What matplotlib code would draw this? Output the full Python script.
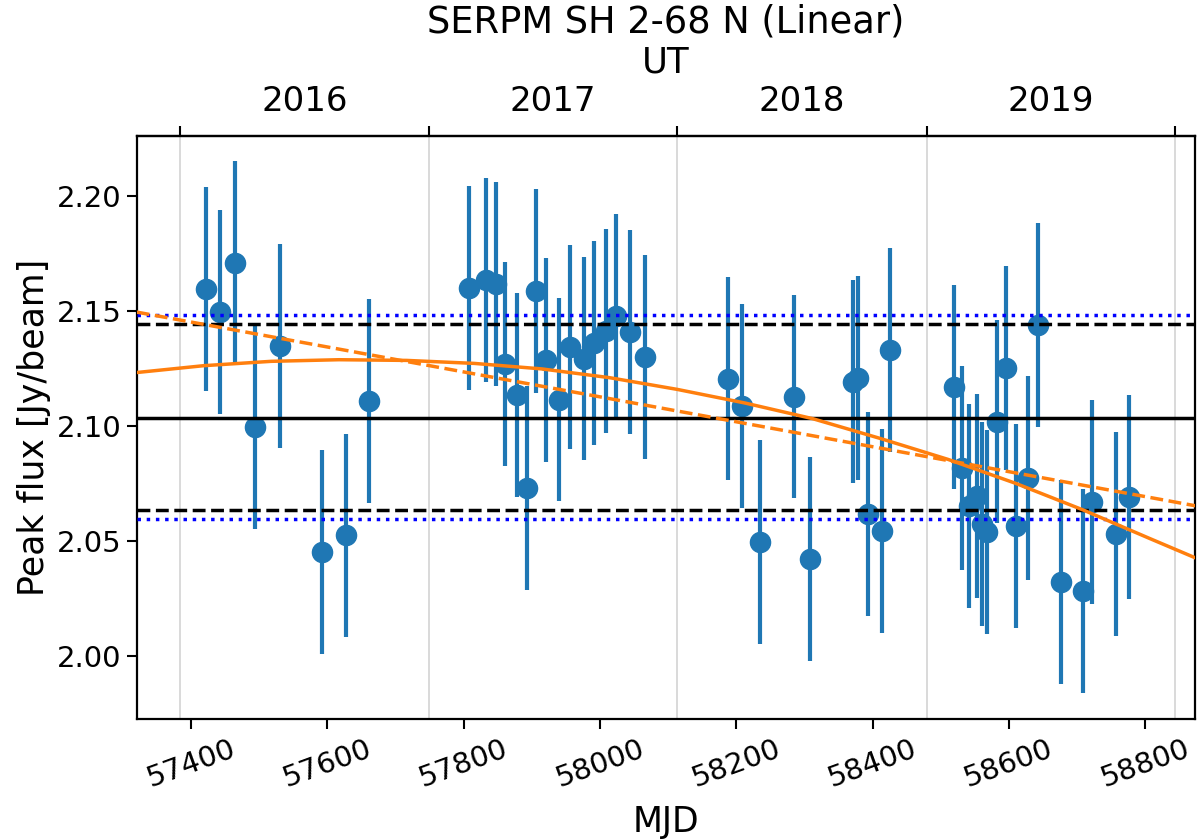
import matplotlib
matplotlib.use("Agg")
import matplotlib.pyplot as plt
import numpy as np

# ---- data ----
mjd = [57421.5, 57442.6, 57465.0, 57494.4, 57530.2, 57592.3, 57627.5, 57661.3,
       57807.7, 57833.1, 57847.3, 57861.4, 57879.0, 57893.3, 57906.9, 57921.1,
       57939.8, 57955.9, 57975.9, 57990.6, 58008.8, 58022.9, 58044.5, 58066.0,
       58188.3, 58208.4, 58234.3, 58284.2, 58308.2, 58371.8, 58379.2, 58393.8,
       58414.4, 58425.1,
       58520.1, 58531.3, 58541.6, 58553.3, 58560.1, 58568.5, 58582.2, 58596.4,
       58611.1, 58627.7, 58643.4, 58676.2, 58708.5, 58722.7, 58756.9, 58776.0]
flux = [2.1596, 2.1496, 2.1707, 2.0994, 2.1346, 2.0452, 2.0524, 2.1108,
        2.1599, 2.1636, 2.1618, 2.1268, 2.1134, 2.0732, 2.1587, 2.1287,
        2.1115, 2.1343, 2.1293, 2.1359, 2.1413, 2.1480, 2.1407, 2.1301,
        2.1206, 2.1086, 2.0496, 2.1128, 2.0423, 2.1193, 2.1209, 2.0618,
        2.0543, 2.1329,
        2.1168, 2.0817, 2.0652, 2.0694, 2.0573, 2.0540, 2.1019, 2.1253,
        2.0566, 2.0774, 2.1438, 2.0321, 2.0281, 2.0669, 2.0529, 2.0691]
flux_err = [0.0443] * len(mjd)

mean_flux = 2.1036
std_lines = [2.1443, 2.0635]
err_lines = [2.1483, 2.0596]

# linear fit (dashed) endpoints
lin_mjd = [57320.3, 58873.8]
lin_flux = [2.1495, 2.0653]

# smooth fit (solid)
curve_mjd = [57319.3, 57418.5, 57517.7, 57617.0, 57716.4, 57815.5, 57914.9,
             58014.0, 58113.4, 58212.5, 58311.8, 58411.0, 58510.4, 58609.6,
             58708.9, 58808.1, 58875.0]
curve_flux = [2.1232, 2.1262, 2.1281, 2.1288, 2.1285, 2.1272, 2.1248,
              2.1210, 2.1159, 2.1100, 2.1032, 2.0946, 2.0855, 2.0751,
              2.0635, 2.0509, 2.0425]

year_bounds = [57383.9, 57749.1, 58113.7, 58479.3, 58843.5]
year_labels = ["2016", "2017", "2018", "2019"]

xlim = (57320.3, 58873.8)
ylim = (1.9726, 2.2262)

# ---- figure ----
fig = plt.figure(figsize=(11.97, 8.39), dpi=100)
ax = fig.add_axes([0.1142, 0.1430, 0.8845, 0.6953])

for xb in year_bounds:
    ax.axvline(xb, color="#d3d3d3", lw=1.2, zorder=0)

ax.errorbar(mjd, flux, yerr=flux_err, fmt="o", color="#1f77b4",
            ms=14.5, elinewidth=3.0, capsize=0, zorder=2)

ax.axhline(mean_flux, color="black", lw=2.5, zorder=3)
for v in std_lines:
    ax.axhline(v, color="black", lw=2.5, ls="--", zorder=3)
for v in err_lines:
    ax.axhline(v, color="blue", lw=2.5, ls=":", zorder=3)

ax.plot(lin_mjd, lin_flux, color="#ff7f0e", lw=2.5, ls="--", zorder=4)
ax.plot(curve_mjd, curve_flux, color="#ff7f0e", lw=2.5, zorder=4)

ax.set_xlim(*xlim)
ax.set_ylim(*ylim)
ax.set_yticks([2.00, 2.05, 2.10, 2.15, 2.20])
ax.set_xticks([57400, 57600, 57800, 58000, 58200, 58400, 58600, 58800])
ax.tick_params(axis="both", labelsize=21, length=7.5, width=1.5)
for lbl in ax.get_xticklabels():
    lbl.set_rotation(20)
ax.set_xlabel("MJD", fontsize=25, labelpad=9)
ax.set_ylabel("Peak flux [Jy/beam]", fontsize=25)
for s in ax.spines.values():
    s.set_linewidth(1.6)

# top UT axis
sec = ax.secondary_xaxis("top")
sec.set_xticks(year_bounds)
sec.set_xticklabels([""] * len(year_bounds))
mids = [(year_bounds[i] + year_bounds[i + 1]) / 2 for i in range(len(year_labels))]
sec.set_xticks(mids, minor=True)
sec.set_xticklabels(year_labels, minor=True)
sec.tick_params(axis="x", which="major", length=7.5, width=1.5)
sec.tick_params(axis="x", which="minor", length=0, labelsize=24.5, pad=13)
sec.set_xlabel("UT", fontsize=25.5, labelpad=9)
sec.spines["top"].set_linewidth(1.6)

fig.text(0.5 * (0.1142 + 0.9987), 1 - 22 / 839, "SERPM SH 2-68 N (Linear)",
         ha="center", va="center", fontsize=26.5)

fig.savefig("out.png", dpi=100)
